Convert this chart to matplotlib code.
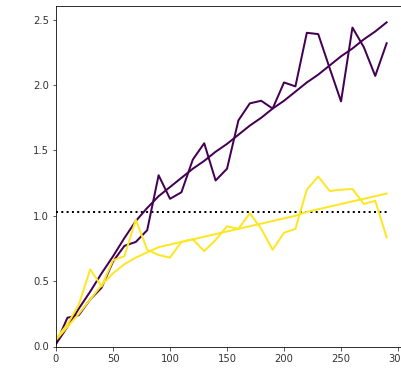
import numpy as np
import matplotlib
matplotlib.use('Agg')
import matplotlib.pyplot as plt

# sample positions
x = np.arange(0, 300, 10)

# purple series: raw values and fitted trend
purple_raw = [0.02, 0.22, 0.24, 0.36, 0.45, 0.65, 0.77, 0.80, 0.89, 1.31,
              1.13, 1.18, 1.43, 1.555, 1.27, 1.36, 1.73, 1.86, 1.88, 1.82,
              2.02, 1.99, 2.40, 2.39, 2.13, 1.875, 2.44, 2.29, 2.07, 2.32]
purple_fit = [0.02, 0.15, 0.29, 0.42, 0.56, 0.69, 0.83, 0.96, 1.06, 1.15,
              1.22, 1.29, 1.36, 1.42, 1.49, 1.55, 1.62, 1.69, 1.75, 1.82,
              1.88, 1.95, 2.02, 2.08, 2.15, 2.22, 2.28, 2.35, 2.41, 2.48]

# yellow series: raw values and fitted trend
yellow_raw = [0.06, 0.17, 0.32, 0.59, 0.46, 0.66, 0.69, 0.97, 0.74, 0.70,
              0.68, 0.80, 0.82, 0.73, 0.815, 0.92, 0.90, 1.02, 0.90, 0.74,
              0.87, 0.90, 1.20, 1.30, 1.19, 1.20, 1.205, 1.09, 1.115, 0.835]
yellow_fit = [0.05, 0.15, 0.25, 0.36, 0.47, 0.56, 0.63, 0.68, 0.72, 0.76,
              0.78, 0.80, 0.82, 0.84, 0.86, 0.88, 0.90, 0.92, 0.94, 0.96,
              0.98, 1.00, 1.03, 1.05, 1.07, 1.09, 1.11, 1.13, 1.15, 1.17]

ref_level = 1.03

fig = plt.figure(figsize=(401 / 72, 368 / 72), dpi=72)
ax = fig.add_axes([56 / 401, 21.5 / 368, 345 / 401, 340.5 / 368])

ax.plot([0, 290], [ref_level, ref_level], ':', color='black', linewidth=2)
ax.plot(x, purple_raw, color='#440154', linewidth=2)
ax.plot(x, purple_fit, color='#440154', linewidth=2)
ax.plot(x, yellow_raw, color='#fde725', linewidth=2)
ax.plot(x, yellow_fit, color='#fde725', linewidth=2)

ax.set_xlim(0, 302.6)
ax.set_ylim(0, 2.605)
ax.set_xticks([0, 50, 100, 150, 200, 250, 300])
ax.set_yticks([0.0, 0.5, 1.0, 1.5, 2.0, 2.5])
ax.tick_params(labelsize=10, colors='#333333', labelcolor='#333333')

fig.savefig('out.png', dpi=72)
